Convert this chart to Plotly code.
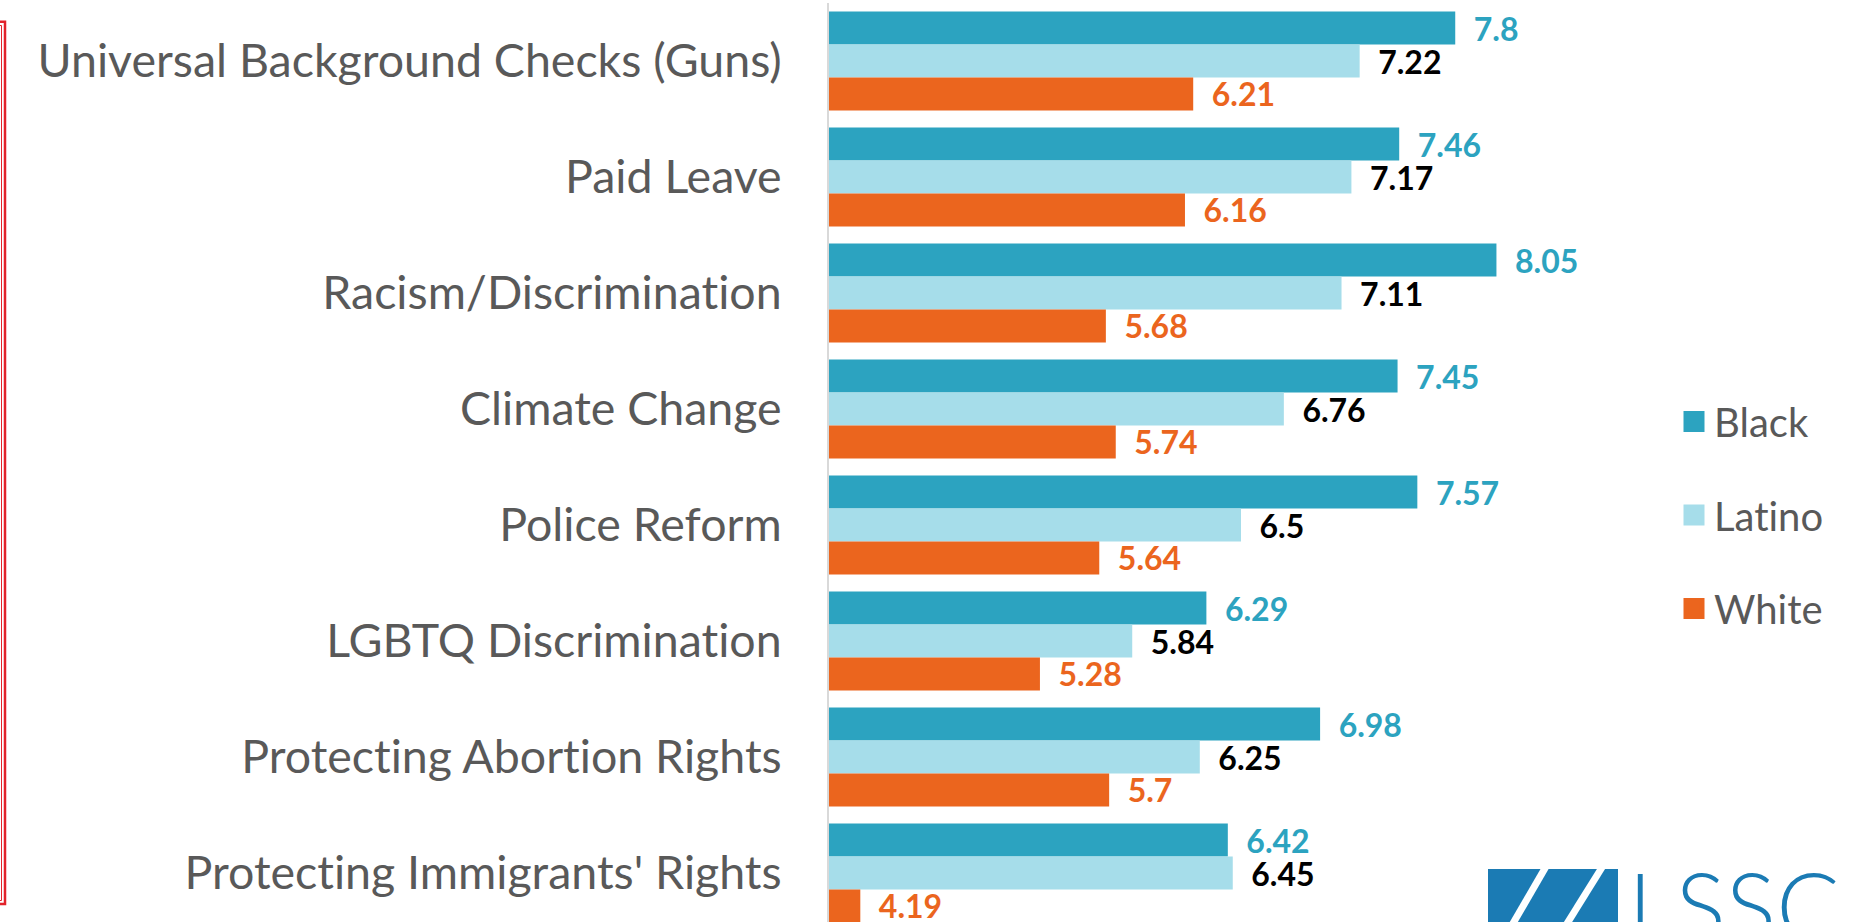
import plotly.graph_objects as go

categories = [
    "Universal Background Checks (Guns)",
    "Paid Leave",
    "Racism/Discrimination",
    "Climate Change",
    "Police Reform",
    "LGBTQ Discrimination",
    "Protecting Abortion Rights",
    "Protecting Immigrants' Rights",
]
black_vals = [7.8, 7.46, 8.05, 7.45, 7.57, 6.29, 6.98, 6.42]
latino_vals = [7.22, 7.17, 7.11, 6.76, 6.5, 5.84, 6.25, 6.45]
white_vals = [6.21, 6.16, 5.68, 5.74, 5.64, 5.28, 5.7, 4.19]
series_names = ["Black", "Latino", "White"]

BAR_COLORS = ["#2CA3C0", "#A6DDEA", "#EB651E"]
LABEL_COLORS = ["#2CA3C0", "#000000", "#EB651E"]
FONT = "Lato"
GREY = "#595959"

W, H = 1857, 922
L, T, B = 829, 3, 0
XMIN, XMAX = 4, 9
PX_PER_UNIT = 164.8
R = L + (XMAX - XMIN) * PX_PER_UNIT
PLOT_W = R - L
PLOT_H = H - T - B
PITCH = 116.0


def px(x):
    return (x - L) / PLOT_W


def py(y):
    return (H - B - y) / PLOT_H


fig = go.Figure()
for name, vals, bc, lc in zip(series_names, [black_vals, latino_vals, white_vals], BAR_COLORS, LABEL_COLORS):
    fig.add_trace(go.Bar(
        name=name,
        y=categories,
        x=vals,
        orientation="h",
        marker=dict(color=bc, line=dict(width=0)),
        text=["\u00a0\u00a0" + str(v) for v in vals],
        textposition="outside",
        textfont=dict(family=FONT, size=32, color=lc, weight="bold"),
        constraintext="none",
        cliponaxis=False,
        showlegend=False,
        hoverinfo="skip",
    ))

for i, (name, bc) in enumerate(zip(series_names, BAR_COLORS)):
    fig.add_trace(go.Scatter(
        name=name,
        x=[None], y=[None],
        mode="markers",
        marker=dict(symbol="square", size=16, color=bc, line=dict(color=bc, width=5)),
        legendgroup=name,
        showlegend=True,
    ))

shapes = []
# red slide border (right edge of a double-line frame)
shapes.append(dict(type="rect", xref="paper", yref="paper",
                   x0=px(-30), x1=px(5), y0=py(904), y1=py(21.7),
                   line=dict(color="#E2232B", width=2.5), fillcolor="rgba(0,0,0,0)", layer="above"))
shapes.append(dict(type="rect", xref="paper", yref="paper",
                   x0=px(-30), x1=px(1.5), y0=py(900.5), y1=py(25.5),
                   line=dict(color="#E2232B", width=1), fillcolor="rgba(0,0,0,0)", layer="above"))
# logo block
shapes.append(dict(type="rect", xref="paper", yref="paper",
                   x0=px(1488), x1=px(1618), y0=py(960), y1=py(869),
                   line=dict(width=0), fillcolor="#1B7BB4", layer="above"))
for (xa, ya, xb, yb) in [(1544.5 + 31 * 9 / 53, 860, 1514 - 31 * 38 / 53, 960),
                         (1601 + 33 * 9 / 53, 860, 1568 - 33 * 38 / 53, 960)]:
    shapes.append(dict(type="line", xref="paper", yref="paper",
                       x0=px(xa), y0=py(ya), x1=px(xb), y1=py(yb),
                       line=dict(color="white", width=7), layer="above"))

annotations = [dict(
    text="LSSC", xref="paper", yref="paper",
    x=px(1626), y=py(846), xanchor="left", yanchor="top",
    showarrow=False,
    font=dict(family=FONT, size=94, color="#1B7BB4", weight=300),
)]

fig.update_layout(
    width=W, height=H,
    margin=dict(l=L, r=W - R, t=T, b=B, pad=0),
    paper_bgcolor="white", plot_bgcolor="white",
    barmode="group", bargap=0.147, bargroupgap=0,
    font=dict(family=FONT, color=GREY),
    xaxis=dict(range=[XMIN, XMAX], visible=False, showgrid=False, zeroline=False),
    yaxis=dict(
        type="category",
        categoryorder="array", categoryarray=categories,
        range=[-0.5 + PLOT_H / PITCH, -0.5],
        showline=True, linecolor="#D9D9D9", linewidth=2,
        ticks="", showgrid=False, zeroline=False,
        tickfont=dict(family=FONT, size=46.5, color=GREY),
        ticklabelstandoff=36,
    ),
    legend=dict(
        xref="container", yref="container",
        x=1674 / W, y=1 - (421 - 32) / H,
        xanchor="left", yanchor="top",
        font=dict(family=FONT, size=40, color=GREY),
        tracegroupgap=38.5,
        bgcolor="rgba(0,0,0,0)",
    ),
    shapes=shapes,
    annotations=annotations,
    showlegend=True,
)

fig.write_html(
    "out.html",
    config={"displayModeBar": False},
    post_script=(
        "document.body.style.margin='0';document.body.style.overflow='hidden';"
        "document.querySelectorAll('text').forEach(function(t){t.style.fontVariantLigatures='none';});"
    ),
)
